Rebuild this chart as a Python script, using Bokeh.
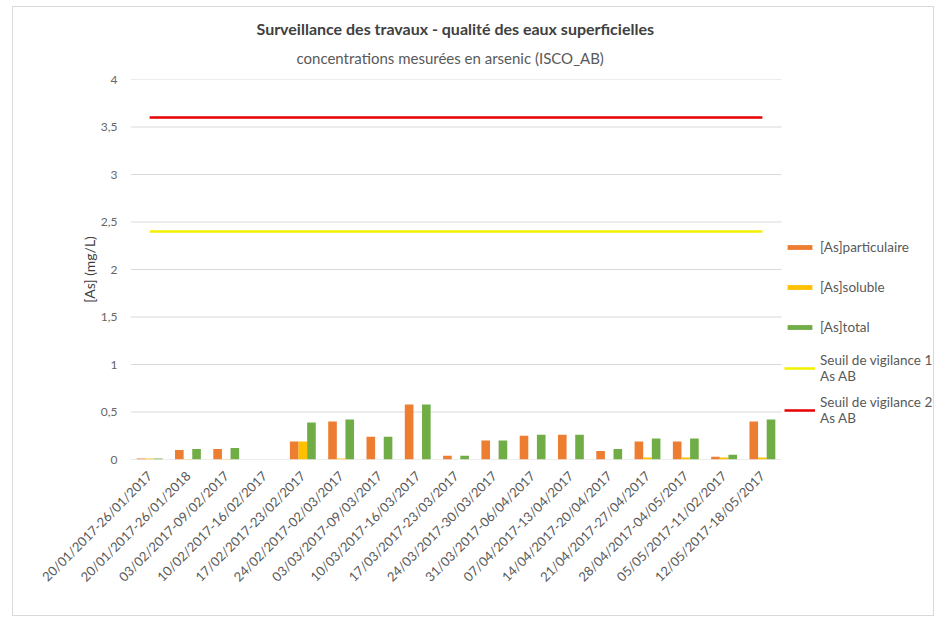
from bokeh.plotting import figure
from bokeh.models import (ColumnDataSource, FixedTicker, Title, Legend, LegendItem, Range1d)
from bokeh.transform import dodge
from bokeh.embed import file_html
from bokeh.resources import INLINE
import math

categories = [
    "20/01/2017-26/01/2017", "20/01/2017-26/01/2018", "03/02/2017-09/02/2017",
    "10/02/2017-16/02/2017", "17/02/2017-23/02/2017", "24/02/2017-02/03/2017",
    "03/03/2017-09/03/2017", "10/03/2017-16/03/2017", "17/03/2017-23/03/2017",
    "24/03/2017-30/03/2017", "31/03/2017-06/04/2017", "07/04/2017-13/04/2017",
    "14/04/2017-20/04/2017", "21/04/2017-27/04/2017", "28/04/2017-04/05/2017",
    "05/05/2017-11/02/2017", "12/05/2017-18/05/2017",
]
particulaire = [0.01, 0.10, 0.11, 0.0, 0.19, 0.40, 0.24, 0.58, 0.04, 0.20, 0.25, 0.26, 0.09, 0.19, 0.19, 0.03, 0.40]
soluble      = [0.01, 0.005, 0.005, 0.0, 0.19, 0.01, 0.0, 0.0, 0.0, 0.0, 0.0, 0.0, 0.0, 0.02, 0.02, 0.02, 0.02]
total        = [0.01, 0.11, 0.12, 0.0, 0.39, 0.42, 0.24, 0.58, 0.04, 0.20, 0.26, 0.26, 0.11, 0.22, 0.22, 0.05, 0.42]
seuil1 = [2.4] * len(categories)
seuil2 = [3.6] * len(categories)
y_ticks = [0, 0.5, 1, 1.5, 2, 2.5, 3, 3.5, 4]
y_tick_labels = ["0", "0,5", "1", "1,5", "2", "2,5", "3", "3,5", "4"]

FONT = "Lato"
n = len(categories)
idx = list(range(n))
src = ColumnDataSource(dict(idx=idx, cat=categories, part=particulaire, sol=soluble, tot=total,
                            s1=seuil1, s2=seuil2))

# categorical slots laid out on a numeric axis; extra room on the right holds the legend
p = figure(x_range=Range1d(-0.5, 20.52), y_range=(0, 4), width=922, height=610,
           output_backend="svg", toolbar_location=None,
           min_border_left=117, min_border_right=0, min_border_top=72, min_border_bottom=158,
           title="Surveillance des travaux - qualité des eaux superficielles")
p.margin = (6, 0, 0, 12)
p.styles = {"border": "1px solid #d9d9d9"}
p.outline_line_color = None

p.title.align = "left"
p.title.offset = 126
p.title.text_font = FONT
p.title.text_font_size = "16px"
p.title.text_font_style = "bold"
p.title.text_color = "#404040"
p.title.standoff = -6
p.add_layout(Title(text="concentrations mesurées en arsenic (ISCO_AB)",
                   align="left", offset=166, text_font=FONT, text_font_size="15px",
                   text_font_style="normal", text_color="#595959", standoff=25), "above")

# horizontal gridlines limited to the category area
p.segment(x0=-0.5, x1=n - 0.5, y0=y_ticks, y1=y_ticks, line_color="#d9d9d9", line_width=1)

w = 0.225
r1 = p.vbar(x=dodge("idx", -w), top="part", width=w, source=src, fill_color="#ED7D31", line_color=None)
r2 = p.vbar(x=dodge("idx", 0), top="sol", width=w, source=src, fill_color="#FFC000", line_color=None)
r3 = p.vbar(x=dodge("idx", w), top="tot", width=w, source=src, fill_color="#70AD47", line_color=None)
l1 = p.line(x="idx", y="s1", source=src, line_color="#F2F200", line_width=2.5)
l2 = p.line(x="idx", y="s2", source=src, line_color="#E60000", line_width=2.5)

# axes
p.yaxis.ticker = FixedTicker(ticks=y_ticks)
p.yaxis.major_label_overrides = {t: s for t, s in zip(y_ticks, y_tick_labels)}
p.yaxis.axis_line_color = None
p.yaxis.major_tick_line_color = None
p.yaxis.minor_tick_line_color = None
p.yaxis.major_label_text_font = FONT
p.yaxis.major_label_text_font_size = "12px"
p.yaxis.major_label_text_color = "#666666"
p.yaxis.major_label_standoff = 7
p.yaxis.axis_label = "[As] (mg/L)"
p.yaxis.axis_label_text_font = FONT
p.yaxis.axis_label_text_font_size = "14px"
p.yaxis.axis_label_text_font_style = "normal"
p.yaxis.axis_label_text_color = "#404040"
p.yaxis.axis_label_standoff = 0

p.xaxis.ticker = FixedTicker(ticks=idx)
p.xaxis.major_label_overrides = {i: c for i, c in zip(idx, categories)}
p.xaxis.major_label_orientation = math.pi / 4
p.xaxis.axis_line_color = None
p.xaxis.major_tick_line_color = None
p.xaxis.minor_tick_line_color = None
p.xaxis.major_label_text_font = FONT
p.xaxis.major_label_text_font_size = "13px"
p.xaxis.major_label_text_color = "#595959"
p.xaxis.major_label_standoff = 8

p.xgrid.grid_line_color = None
p.ygrid.grid_line_color = None

legend = Legend(items=[LegendItem(label="[As]particulaire", renderers=[r1]),
                       LegendItem(label="[As]soluble", renderers=[r2]),
                       LegendItem(label="[As]total", renderers=[r3]),
                       LegendItem(label="Seuil de vigilance 1\nAs AB", renderers=[l1]),
                       LegendItem(label="Seuil de vigilance 2\nAs AB", renderers=[l2])],
                location=(654, 33), spacing=10, label_height=30,
                border_line_color=None, background_fill_alpha=0, padding=0, margin=0,
                glyph_width=31, glyph_height=6, label_standoff=5,
                label_text_font=FONT, label_text_font_size="13.5px",
                label_text_color="#595959")
p.add_layout(legend, "center")

open("out.html", "w").write(file_html(p, INLINE))
